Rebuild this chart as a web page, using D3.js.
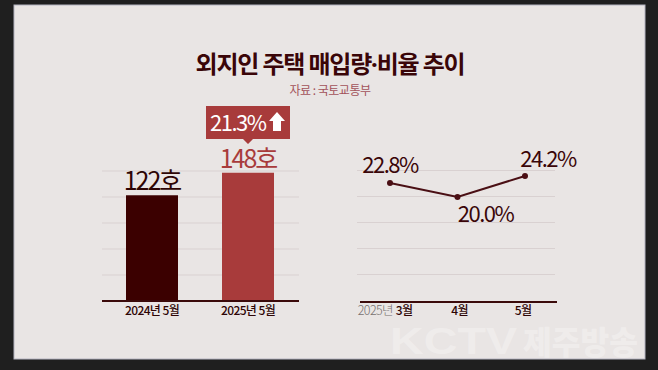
<!DOCTYPE html>
<html>
<head>
<meta charset="utf-8">
<script src="https://cdn.jsdelivr.net/npm/d3@7"></script>
<style>
  body { margin: 0; background: #1f1f1f; }
  svg { display: block; font-family: "Noto Sans CJK KR", "Noto Sans", sans-serif; }
</style>
</head>
<body>
<div id="chart"></div>
<script>
// data
var barCats = ['2024년 5월', '2025년 5월'];
var barValues = [122, 148];
var barLabels = ['122호', '148호'];
var changeLabel = '21.3%';
var gridValues = [30, 60, 90, 120, 150];

var lineCats = ['3월', '4월', '5월'];
var lineYearPrefix = '2025년';
var lineValues = [22.8, 20.0, 24.2];

var W = 658, H = 370;
var svg = d3.select('#chart').append('svg')
    .attr('width', W).attr('height', H);

svg.append('rect').attr('width', W).attr('height', H).attr('fill', '#1f1f1f');
svg.append('rect')
    .attr('x', 14).attr('y', 5).attr('width', 631).attr('height', 354)
    .attr('fill', '#e9e5e4').attr('stroke', '#b4b3c0').attr('stroke-width', 1);

// title
var title = svg.append('text').attr('x', 330).attr('y', 73)
    .attr('text-anchor', 'middle').attr('font-size', 24).attr('font-weight', 700)
    .attr('fill', '#3a0508').attr('letter-spacing', -1.2);
title.append('tspan').text('외지인 주택 매입량');
title.append('tspan').attr('font-family', '"Noto Sans", sans-serif').text('·');
title.append('tspan').text('비율 추이');
svg.append('text').attr('x', 330).attr('y', 95)
    .attr('text-anchor', 'middle').attr('font-size', 12)
    .attr('fill', '#a3525a').attr('letter-spacing', -0.5)
    .text('자료 : 국토교통부');

// ---- left: bars
var y = d3.scaleLinear().domain([0, 150]).range([301, 171]);
var xb = d3.scalePoint().domain(barCats).range([152, 248]);
var barW = 52;

var left = svg.append('g');
left.selectAll('.grid').data(gridValues).enter().append('line')
    .attr('x1', 102).attr('x2', 299)
    .attr('y1', d => y(d)).attr('y2', d => y(d))
    .attr('stroke', '#d9d1d1').attr('stroke-width', 1);

var barColors = ['#3b0000', '#a83b3b'];
left.selectAll('.bar').data(barValues).enter().append('rect')
    .attr('x', (d, i) => xb(barCats[i]) - barW / 2)
    .attr('y', d => y(d))
    .attr('width', barW)
    .attr('height', d => y(0) - y(d))
    .attr('fill', (d, i) => barColors[i]);

left.append('line').attr('x1', 102).attr('x2', 299)
    .attr('y1', y(0)).attr('y2', y(0))
    .attr('stroke', '#3b0a0a').attr('stroke-width', 2);

left.selectAll('.vlab').data(barValues).enter().append('text')
    .attr('x', (d, i) => xb(barCats[i]))
    .attr('y', d => y(d) - 5)
    .attr('text-anchor', 'middle').attr('font-size', 25).attr('font-weight', 400)
    .attr('letter-spacing', -2)
    .attr('fill', (d, i) => i === 0 ? '#2e0505' : '#a83b3b')
    .text((d, i) => barLabels[i]);

left.selectAll('.xlab').data(barCats).enter().append('text')
    .attr('x', d => xb(d)).attr('y', 315)
    .attr('text-anchor', 'middle').attr('font-size', 12).attr('font-weight', 500)
    .attr('fill', '#2e0505').attr('letter-spacing', -0.6)
    .text(d => d);

// callout
var cx = xb(barCats[1]);
var callout = left.append('g');
callout.append('path')
    .attr('d', 'M' + (cx - 42) + ',106 H' + (cx + 42) + ' V139 H' + (cx + 5) +
        ' L' + cx + ',144 L' + (cx - 5) + ',139 H' + (cx - 42) + ' Z')
    .attr('fill', '#a83b3b');
callout.append('text').attr('x', cx - 38).attr('y', 131)
    .attr('font-size', 22).attr('font-weight', 400).attr('fill', '#fff')
    .attr('letter-spacing', -1.5)
    .text(changeLabel);
// up arrow
var ax = cx + 29;
callout.append('path')
    .attr('d', 'M' + ax + ',112 L' + (ax + 8) + ',121 H' + (ax + 4) + ' V131 H' + (ax - 4) +
        ' V121 H' + (ax - 8) + ' Z')
    .attr('fill', '#fff');

// ---- right: line
var yR = d3.scaleLinear().domain([-1, 25]).range([302, 172]);
var xR = d3.scalePoint().domain(lineCats).range([390, 525]);
var right = svg.append('g');

right.selectAll('.grid').data(gridValues).enter().append('line')
    .attr('x1', 357).attr('x2', 555)
    .attr('y1', d => y(d) - 0.5).attr('y2', d => y(d) - 0.5)
    .attr('stroke', '#d9d1d1').attr('stroke-width', 1);
right.append('line').attr('x1', 360).attr('x2', 557)
    .attr('y1', 302).attr('y2', 302)
    .attr('stroke', '#3b0a0a').attr('stroke-width', 2);

var pts = lineValues.map((v, i) => [xR(lineCats[i]), yR(v)]);
right.append('path').attr('d', d3.line()(pts))
    .attr('fill', 'none').attr('stroke', '#4a0f14').attr('stroke-width', 2);
right.selectAll('.dot').data(pts).enter().append('circle')
    .attr('cx', d => d[0]).attr('cy', d => d[1]).attr('r', 3)
    .attr('fill', '#4a0f14');

var labOff = [[0, -10], [28, 25], [23, -9]];
right.selectAll('.plab').data(lineValues).enter().append('text')
    .attr('x', (d, i) => pts[i][0] + labOff[i][0])
    .attr('y', (d, i) => pts[i][1] + labOff[i][1])
    .attr('text-anchor', 'middle').attr('font-size', 22).attr('font-weight', 400)
    .attr('letter-spacing', -1.5).attr('fill', '#3a0508')
    .text(d => d.toFixed(1) + '%');

// month labels sit a little off the points, as in the picture
var monthOff = [14, 2, -2];
right.append('text').attr('x', xR(lineCats[0]) + monthOff[0] - 11).attr('y', 315)
    .attr('text-anchor', 'end').attr('font-size', 12.5).attr('font-weight', 300)
    .attr('letter-spacing', -0.6).attr('fill', '#77706f')
    .text(lineYearPrefix);
right.selectAll('.xlab').data(lineCats).enter().append('text')
    .attr('x', (d, i) => xR(d) + monthOff[i]).attr('y', 315)
    .attr('text-anchor', 'middle').attr('font-size', 12).attr('font-weight', 500)
    .attr('letter-spacing', -0.6).attr('fill', '#2e0505')
    .text(d => d);

// watermark
var wm = svg.append('g').attr('fill', '#ffffff').attr('fill-opacity', 0.3);
wm.append('text').attr('x', 390).attr('y', 354)
    .attr('font-family', '"Liberation Sans", Arial, sans-serif')
    .attr('font-size', 36).attr('font-weight', 700)
    .attr('textLength', 127).attr('lengthAdjust', 'spacingAndGlyphs')
    .text('KCTV');
wm.append('text').attr('x', 523).attr('y', 354)
    .attr('font-size', 32).attr('font-weight', 900)
    .attr('textLength', 115).attr('lengthAdjust', 'spacingAndGlyphs')
    .text('제주방송');
</script>
</body>
</html>
